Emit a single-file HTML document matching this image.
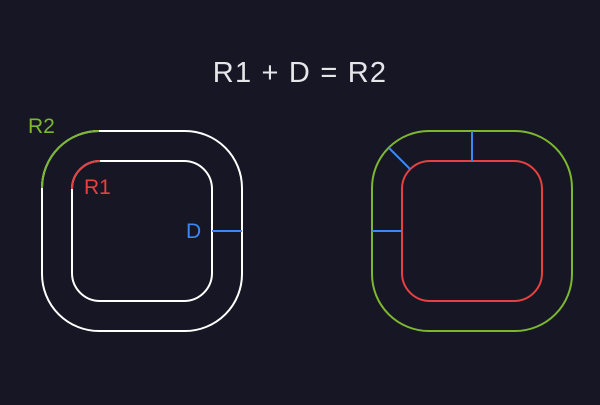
<!DOCTYPE html>
<html><head><style>html,body{margin:0;background:#161624}</style></head><body>
<svg width="600" height="400" viewBox="0 0 600 400" xmlns="http://www.w3.org/2000/svg">
<rect width="600" height="400" fill="#161624"/>
<text x="300" y="82" text-anchor="middle" font-family="Liberation Sans, sans-serif" font-size="29" letter-spacing="1.2" fill="#e6e6ea">R1 + D = R2</text>
<g fill="none" stroke-width="2">
<rect x="42" y="131" width="200" height="200" rx="57" stroke="#fff"/>
<rect x="72" y="161" width="140" height="140" rx="28" stroke="#fff"/>
<path d="M42 188 A57 57 0 0 1 99 131" stroke="#7cb82f"/>
<path d="M72 189 A28 28 0 0 1 100 161" stroke="#e84040"/>
<line x1="212" y1="231" x2="242" y2="231" stroke="#3b87f5"/>
<rect x="372" y="131" width="200" height="200" rx="57" stroke="#7cb82f"/>
<rect x="402" y="161" width="140" height="140" rx="28" stroke="#e84040"/>
<line x1="472" y1="131" x2="472" y2="161" stroke="#3b87f5"/>
<line x1="372" y1="231" x2="402" y2="231" stroke="#3b87f5"/>
<line x1="389" y1="148" x2="410" y2="169" stroke="#3b87f5"/>
</g>
<g font-family="Liberation Sans, sans-serif" font-size="21">
<text x="28" y="133" fill="#7cb82f">R2</text>
<text x="84" y="194" fill="#e84040">R1</text>
<text x="186" y="238" fill="#3b87f5">D</text>
</g>
</svg>
</body></html>
